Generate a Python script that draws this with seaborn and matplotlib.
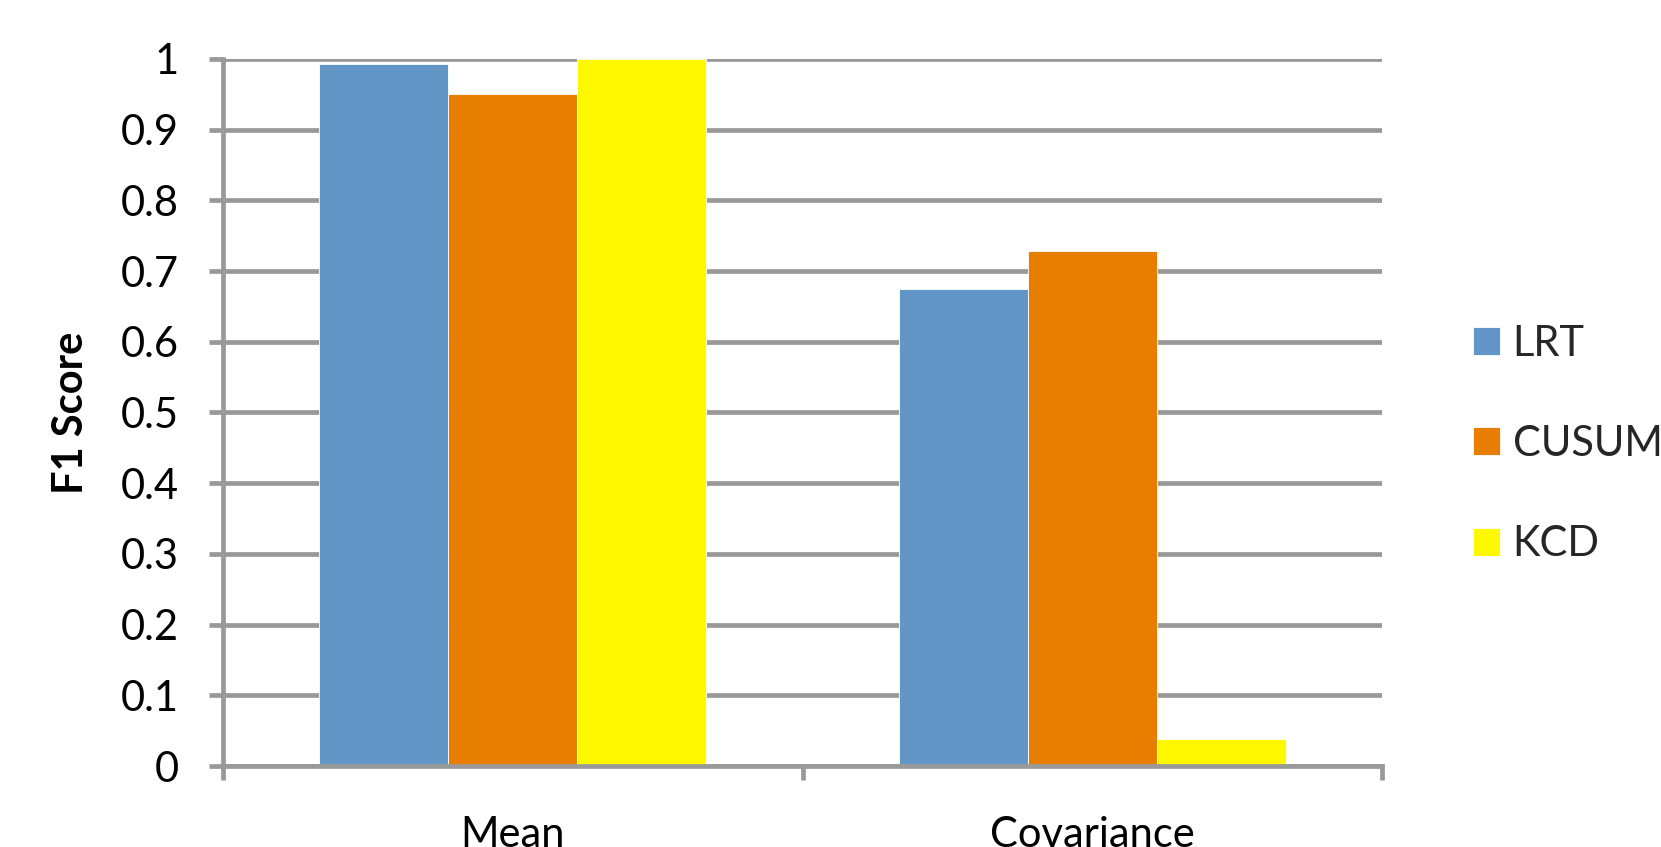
import matplotlib
matplotlib.use("Agg")
import matplotlib.pyplot as plt
import seaborn as sns
import pandas as pd
import numpy as np

# F1 scores per change type and detection method
categories = ["Mean", "Covariance"]
methods = ["LRT", "CUSUM", "KCD"]
lrt_scores = [0.993, 0.674]
cusum_scores = [0.951, 0.729]
kcd_scores = [1.0, 0.038]
y_ticks = [0, 0.1, 0.2, 0.3, 0.4, 0.5, 0.6, 0.7, 0.8, 0.9, 1]
y_tick_labels = ["0", "0.1", "0.2", "0.3", "0.4", "0.5", "0.6", "0.7", "0.8", "0.9", "1"]

colors = {"LRT": "#6196C7", "CUSUM": "#E87E00", "KCD": "#FFF900"}
grid_color = "#999999"
line_w = 3.4

df = pd.DataFrame({
    "Change": categories * 3,
    "Method": [m for m in methods for _ in categories],
    "F1": lrt_scores + cusum_scores + kcd_scores,
})

sns.set_theme(style="white")
plt.rcParams["font.family"] = ["Lato", "DejaVu Sans"]

fig = plt.figure(figsize=(16.61, 8.47), dpi=100)
ax = fig.add_axes([223 / 1661, 1 - 766 / 847, (1382 - 223) / 1661, (766 - 59) / 847])

sns.barplot(data=df, x="Change", y="F1", hue="Method", order=categories,
            hue_order=methods, palette=colors, saturation=1, width=0.667, gap=0,
            edgecolor="white", linewidth=0.6, ax=ax, legend=True, zorder=3)

ax.set_xlim(-0.5, 1.5)
ax.set_ylim(0, 1)
ax.set_yticks(y_ticks)
ax.set_yticklabels(y_tick_labels)
ax.yaxis.grid(True, color=grid_color, linewidth=line_w, zorder=0)
ax.set_axisbelow(True)

# category labels centred, tick marks on the category boundaries
ax.set_xticks([0, 1])
ax.set_xticklabels(categories)
ax.set_xticks([-0.5, 0.5, 1.5], minor=True)
ax.tick_params(axis="x", which="major", length=0, pad=36, labelsize=30, labelcolor="black")
ax.tick_params(axis="x", which="minor", length=10, width=line_w, color=grid_color, direction="out", bottom=True)
ax.tick_params(axis="y", which="major", length=10, width=line_w, color=grid_color,
               direction="out", left=True, pad=22, labelsize=30, labelcolor="black")

for side in ["top", "right"]:
    ax.spines[side].set_visible(False)
for side in ["left", "bottom"]:
    ax.spines[side].set_color(grid_color)
    ax.spines[side].set_linewidth(line_w)
    ax.spines[side].set_zorder(4)

ax.set_xlabel("")
ax.set_ylabel("F1 Score", fontsize=30, fontweight="bold", color="black")
ax.yaxis.set_label_coords(-0.1148, 0.5)

handles, labels = ax.get_legend_handles_labels()
ax.get_legend().remove()
fig.legend(handles, labels, loc="center left", bbox_to_anchor=(1473 / 1661, 1 - 444 / 847),
           frameon=False, fontsize=30, handlelength=0.65, handleheight=0.65,
           handletextpad=0.3, labelspacing=1.5, borderpad=0, borderaxespad=0)

fig.savefig("out.png", dpi=100)
